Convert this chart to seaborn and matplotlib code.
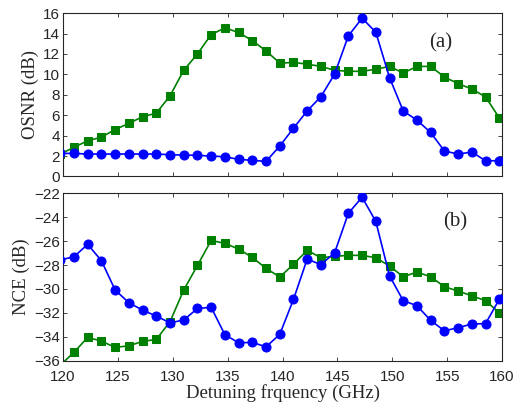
import numpy as np
import pandas as pd
import matplotlib
matplotlib.use("Agg")
import matplotlib.pyplot as plt
import seaborn as sns

sns.set_style("ticks")
plt.rcParams['font.family'] = ['Liberation Sans', 'DejaVu Sans']
plt.rcParams['xtick.direction'] = 'in'
plt.rcParams['ytick.direction'] = 'in'

freq = [119.75 + 1.25 * k for k in range(34)]

osnr_blue = [2.26, 2.26, 2.2, 2.2, 2.2, 2.2, 2.2, 2.2, 2.13, 2.1, 2.07, 2.0, 1.93,
             1.68, 1.58, 1.48, 2.98, 4.73, 6.42, 7.82, 10.03, 13.77, 15.5, 14.13,
             9.68, 6.42, 5.51, 4.31, 2.49, 2.2, 2.39, 1.54, 1.54, 1.5]
osnr_green = [2.2, 2.85, 3.5, 3.85, 4.6, 5.2, 5.85, 6.2, 7.9, 10.4, 12.0, 13.9, 14.55,
              14.1, 13.3, 12.3, 11.1, 11.17, 11.0, 10.78, 10.4, 10.3, 10.3, 10.5,
              10.78, 10.13, 10.78, 10.78, 9.74, 9.09, 8.57, 7.79, 5.74, 5.3]
nce_blue = [-27.58, -27.3, -26.27, -27.64, -30.09, -31.15, -31.77, -32.27, -32.83,
            -32.6, -31.63, -31.54, -33.83, -34.5, -34.47, -34.84, -33.8, -30.87,
            -27.5, -27.97, -26.97, -23.67, -22.33, -24.35, -28.9, -30.98, -31.4,
            -32.63, -33.5, -33.24, -32.93, -32.9, -30.87, -28.9]
nce_green = [-36.37, -35.3, -34.05, -34.36, -34.89, -34.75, -34.39, -34.22, -32.74,
             -30.09, -28.03, -25.94, -26.19, -26.66, -27.36, -28.28, -29.0, -27.94,
             -26.77, -27.39, -27.27, -27.19, -27.19, -27.39, -28.08, -28.98, -28.59,
             -28.98, -29.81, -30.18, -30.57, -30.98, -31.99, -32.1]

xticks = [120, 125, 130, 135, 140, 145, 150, 155, 160]
yticks_a = [0, 2, 4, 6, 8, 10, 12, 14, 16]
yticks_b = [-36, -34, -32, -30, -28, -26, -24, -22]

df = pd.DataFrame({"freq": freq, "osnr_blue": osnr_blue, "osnr_green": osnr_green,
                   "nce_blue": nce_blue, "nce_green": nce_green})

fig = plt.figure(figsize=(5.16, 4.09), dpi=100)
ax1 = fig.add_axes([0.1221, 0.5685, 0.8508, 0.3995])
ax2 = fig.add_axes([0.1221, 0.1181, 0.8508, 0.4093])

BLUE = "#0000ff"
GREEN = "#008000"

def draw(ax, ycol_b, ycol_g):
    sns.lineplot(data=df, x="freq", y=ycol_g, ax=ax, color=GREEN, marker="s",
                 markersize=6, markeredgecolor=GREEN, linewidth=1.2, zorder=2)
    sns.lineplot(data=df, x="freq", y=ycol_b, ax=ax, color=BLUE, marker="o",
                 markersize=6.5, markeredgecolor=BLUE, linewidth=1.2, zorder=3)
    ax.set_xlim(120, 160)
    ax.set_xticks(xticks)
    ax.tick_params(top=True, right=True, labelsize=11, length=3, width=0.6, pad=2)
    ax.tick_params(axis="x", pad=7)
    for s in ax.spines.values():
        s.set_visible(True)
        s.set_linewidth(0.8)

draw(ax1, "osnr_blue", "osnr_green")
ax1.set_ylim(0, 16)
ax1.set_yticks(yticks_a)
ax1.set_xticklabels([])
ax1.set_xlabel("")
ax1.set_ylabel("OSNR (dB)", family="Liberation Serif", fontsize=13.5, labelpad=3)
ax1.text(0.86, 0.82, "(a)", transform=ax1.transAxes, family="Liberation Serif",
         fontsize=15, ha="center", va="center")

draw(ax2, "nce_blue", "nce_green")
ax2.set_ylim(-36, -22)
ax2.set_yticks(yticks_b)
ax2.set_xticklabels([str(t) for t in xticks])
ax2.set_xlabel("Detuning frquency (GHz)", family="Liberation Serif", fontsize=13.5, labelpad=0)
ax2.set_ylabel("NCE (dB)", family="Liberation Serif", fontsize=13.5, labelpad=3)
ax2.text(0.893, 0.83, "(b)", transform=ax2.transAxes, family="Liberation Serif",
         fontsize=15, ha="center", va="center")

fig.savefig("out.png", dpi=100)
